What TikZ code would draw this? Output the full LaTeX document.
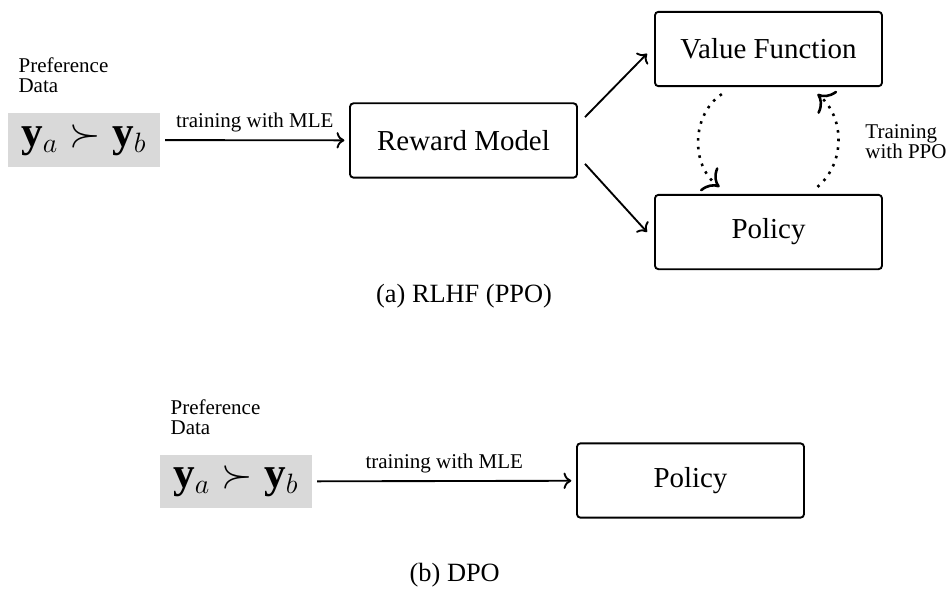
\documentclass[tikz,border=0pt]{standalone}
\usepackage{fontspec}
\setmainfont{Liberation Serif}
\usepackage{tikz}
\usetikzlibrary{arrows.meta, positioning, calc}
\definecolor{datafill}{HTML}{D9D9D9}
\tikzset{
  blk/.style={rectangle, rounded corners=1.5pt, draw, thick, align=center, font=\fontsize{12.4}{14}\selectfont, minimum width=3.42cm, minimum height=1.12cm},
  prefbox/.style={rectangle, fill=datafill, inner sep=0pt, minimum width=2.29cm, minimum height=0.81cm, font=\fontsize{18.5}{22}\selectfont},
  note/.style={align=left, inner sep=0pt, font=\fontsize{9}{8.6}\selectfont},
  lab/.style={font=\small, above, inner sep=3pt},
  subcap/.style={font=\fontsize{11.3}{13}\selectfont},
  arr/.style={->, thick, shorten >=2pt, shorten <=2pt},
  cyc/.style={-{To[scale=1.5]}, line width=1.1pt, dash pattern=on 1.1pt off 2.6pt},
}

\begin{document}
\begin{tikzpicture}
  \useasboundingbox (0,0) rectangle (14.25,-8.872);
  % (a) RLHF
  \node[prefbox] (data1) at (1.265,-2.109) {$\mathbf{y}_a \succ \mathbf{y}_b$};
  \node[note, anchor=south west] (pref1) at ($(data1.north west)+(0.16,0.29)$) {Preference\\Data};
  \node[blk] (reward) at (6.982,-2.116) {Reward Model};
  \node[blk] (vf) at (11.576,-0.738) {Value Function};
  \node[blk] (pol1) at (11.576,-3.495) {Policy};
  \node[note, anchor=west] (ppo) at (13.03,-2.139) {Training\\with PPO};
  \node[subcap] (capA) at (6.99,-4.459) {(a) RLHF (PPO)};

  \draw[arr] (data1) -- node[lab] {training with MLE} (reward);
  \draw[->, thick] ([xshift=3pt,yshift=10pt]reward.east) -- ([xshift=-3pt,yshift=-2pt]vf.west);
  \draw[->, thick] ([xshift=3pt,yshift=-10pt]reward.east) -- ([xshift=-3pt]pol1.west);
  \draw[cyc] ([xshift=-20pt,yshift=-3pt]vf.south) to[bend right=55] ([xshift=-21pt,yshift=3pt]pol1.north);
  \draw[cyc] ([xshift=21pt,yshift=3pt]pol1.north) to[bend right=50] ([xshift=21pt,yshift=-3pt]vf.south);

  % (b) DPO
  \node[prefbox] (data2) at (3.555,-7.253) {$\mathbf{y}_a \succ \mathbf{y}_b$};
  \node[note, anchor=south west] (pref2) at ($(data2.north west)+(0.16,0.29)$) {Preference\\Data};
  \node[blk] (pol2) at (10.401,-7.238) {Policy};
  \node[subcap] (capB) at (6.85,-8.66) {(b) DPO};

  \draw[arr] (data2) -- node[lab] {training with MLE} (pol2);
\end{tikzpicture}
\end{document}
